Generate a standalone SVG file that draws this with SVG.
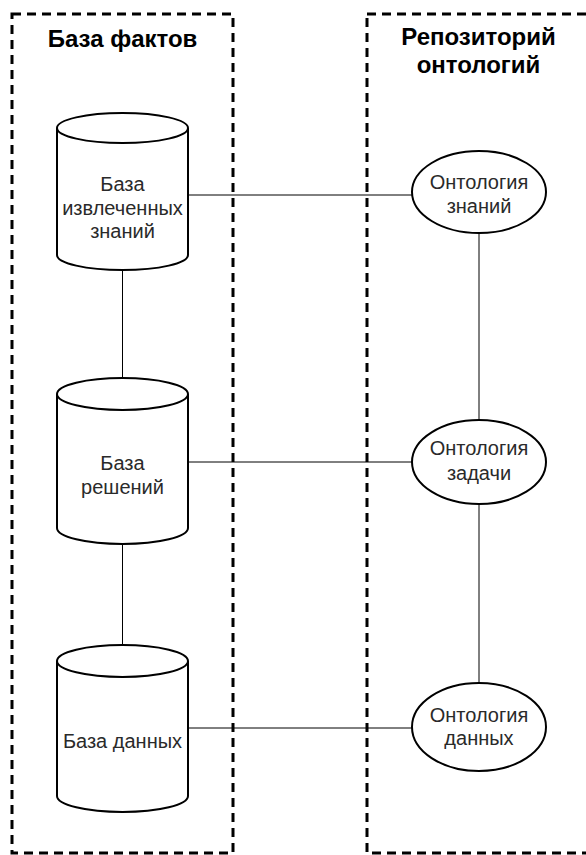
<svg xmlns="http://www.w3.org/2000/svg" width="586" height="855" viewBox="0 0 586 855">
  <style>
    .frame { fill: none; stroke: #000; stroke-width: 3; stroke-dasharray: 9 6; }
    .shape { fill: #fff; stroke: #000; stroke-width: 2; }
    .link { fill: none; stroke: #000; stroke-width: 1; }
    .title { font-family: "Liberation Sans", Arial, sans-serif; font-size: 24px; font-weight: bold; fill: #000; text-anchor: middle; }
    .label { font-family: "Liberation Sans", Arial, sans-serif; font-size: 20px; fill: #2a2a2a; text-anchor: middle; }
  </style>
  <rect width="586" height="855" fill="#fff"/>

  <!-- containers -->
  <g id="facts-base">
    <rect class="frame" x="12" y="14" width="221" height="839"/>
    <text class="title" x="122.5" y="47">База фактов</text>
  </g>
  <g id="ontology-repo">
    <rect class="frame" x="367" y="14" width="240" height="839"/>
    <text class="title" x="478.5" y="45">Репозиторий</text>
    <text class="title" x="478.5" y="73">онтологий</text>
  </g>

  <!-- connectors -->
  <g id="connectors">
    <line class="link" x1="188" y1="195" x2="412" y2="195"/>
    <line class="link" x1="188" y1="462" x2="412" y2="462"/>
    <line class="link" x1="188" y1="728" x2="412" y2="728"/>
    <line class="link" x1="122.5" y1="270" x2="122.5" y2="378"/>
    <line class="link" x1="122.5" y1="544" x2="122.5" y2="645"/>
    <line class="link" x1="479" y1="233" x2="479" y2="420"/>
    <line class="link" x1="479" y1="504" x2="479" y2="684"/>
  </g>

  <!-- databases -->
  <g id="db-extracted-knowledge">
    <path class="shape" d="M57,128 A65.5,15 0 0 1 188,128 V255 A65.5,15 0 0 1 57,255 Z"/>
    <path class="shape" d="M57,128 A65.5,15 0 0 0 188,128"/>
    <text class="label" x="122.5" y="191">База</text>
    <text class="label" x="122.5" y="214.5">извлеченных</text>
    <text class="label" x="122.5" y="238">знаний</text>
  </g>
  <g id="db-solutions">
    <path class="shape" d="M57,394 A65.5,16 0 0 1 188,394 V528 A65.5,16 0 0 1 57,528 Z"/>
    <path class="shape" d="M57,394 A65.5,16 0 0 0 188,394"/>
    <text class="label" x="122.5" y="470">База</text>
    <text class="label" x="122.5" y="494">решений</text>
  </g>
  <g id="db-data">
    <path class="shape" d="M57,661 A65.5,16 0 0 1 188,661 V796 A65.5,16 0 0 1 57,796 Z"/>
    <path class="shape" d="M57,661 A65.5,16 0 0 0 188,661"/>
    <text class="label" x="122.5" y="748">База данных</text>
  </g>

  <!-- ontologies -->
  <g id="onto-knowledge">
    <ellipse class="shape" cx="479" cy="192" rx="67" ry="41"/>
    <text class="label" x="479" y="189">Онтология</text>
    <text class="label" x="479" y="213">знаний</text>
  </g>
  <g id="onto-task">
    <ellipse class="shape" cx="479" cy="462" rx="67" ry="42"/>
    <text class="label" x="479" y="455">Онтология</text>
    <text class="label" x="479" y="480">задачи</text>
  </g>
  <g id="onto-data">
    <ellipse class="shape" cx="479" cy="727" rx="67" ry="44"/>
    <text class="label" x="479" y="722">Онтология</text>
    <text class="label" x="479" y="745">данных</text>
  </g>
</svg>
